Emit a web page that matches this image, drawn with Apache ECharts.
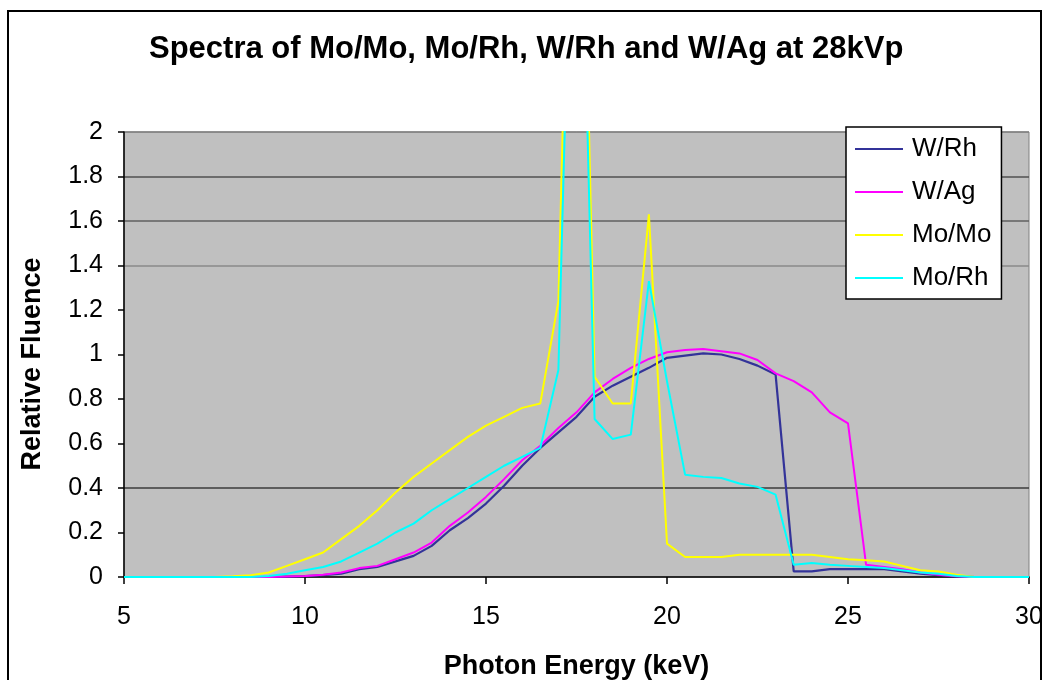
<!DOCTYPE html>
<html>
<head>
<meta charset="utf-8">
<title>Spectra at 28kVp</title>
<script src="https://cdn.jsdelivr.net/npm/echarts@6/dist/echarts.min.js"></script>
<style>
  html, body { margin: 0; padding: 0; background: #ffffff; }
  #chart { width: 1044px; height: 680px; }
</style>
</head>
<body>
<div id="chart"></div>
<script>
// Photon energy grid (keV)
var energy = [5, 5.5, 6, 6.5, 7, 7.5, 8, 8.5, 9, 9.5, 10, 10.5, 11, 11.5, 12, 12.5,
  13, 13.5, 14, 14.5, 15, 15.5, 16, 16.5, 17, 17.5, 18, 18.5, 19, 19.5, 20, 20.5,
  21, 21.5, 22, 22.5, 23, 23.5, 24, 24.5, 25, 25.5, 26, 26.5, 27, 27.5, 28, 28.5,
  29, 29.5, 30];

// Relative fluence per target/filter combination
var wRh = [0, 0, 0, 0, 0, 0, 0, 0, 0, 0.002, 0.004, 0.008, 0.015, 0.035, 0.045, 0.07,
  0.095, 0.14, 0.21, 0.265, 0.33, 0.41, 0.50, 0.58, 0.65, 0.72, 0.81, 0.86, 0.90, 0.94, 0.985, 0.995,
  1.005, 1.0, 0.98, 0.95, 0.91, 0.025, 0.025, 0.035, 0.035, 0.035, 0.035, 0.025, 0.015, 0.008, 0.002, 0,
  0, 0, 0];
var wAg = [0, 0, 0, 0, 0, 0, 0, 0, 0, 0.002, 0.005, 0.01, 0.02, 0.04, 0.05, 0.08,
  0.11, 0.155, 0.23, 0.29, 0.36, 0.44, 0.525, 0.59, 0.67, 0.74, 0.83, 0.89, 0.94, 0.98, 1.01, 1.02,
  1.025, 1.015, 1.005, 0.975, 0.915, 0.88, 0.83, 0.74, 0.69, 0.055, 0.045, 0.035, 0.02, 0.01, 0.003, 0,
  0, 0, 0];
var moMo = [0, 0, 0, 0, 0, 0, 0.003, 0.008, 0.02, 0.05, 0.08, 0.11, 0.17, 0.23, 0.30, 0.38,
  0.45, 0.51, 0.57, 0.63, 0.68, 0.72, 0.76, 0.78, 1.24, 4.5, 0.90, 0.78, 0.78, 1.63, 0.15, 0.09,
  0.09, 0.09, 0.10, 0.10, 0.10, 0.10, 0.10, 0.09, 0.08, 0.075, 0.07, 0.05, 0.03, 0.025, 0.01, 0,
  0, 0, 0];
var moRh = [0, 0, 0, 0, 0, 0, 0, 0, 0.005, 0.015, 0.03, 0.045, 0.07, 0.11, 0.15, 0.20,
  0.24, 0.30, 0.35, 0.40, 0.45, 0.50, 0.54, 0.58, 0.93, 4.0, 0.71, 0.62, 0.64, 1.33, 0.88, 0.46,
  0.45, 0.445, 0.42, 0.405, 0.37, 0.055, 0.063, 0.055, 0.05, 0.045, 0.04, 0.03, 0.02, 0.015, 0.005, 0,
  0, 0, 0];

var seriesNames = ['W/Rh', 'W/Ag', 'Mo/Mo', 'Mo/Rh'];
var seriesValues = [wRh, wAg, moMo, moRh];
var seriesColors = ['#333399', '#ff00ff', '#ffff00', '#00ffff'];

var FONT = "'Liberation Sans', Arial, sans-serif";

function pairs(values) {
  return energy.map(function (e, i) { return [e, values[i]]; });
}

var chart = echarts.init(document.getElementById('chart'), null, { renderer: 'canvas' });

chart.setOption({
  animation: false,
  backgroundColor: '#ffffff',
  title: {
    text: 'Spectra of Mo/Mo, Mo/Rh, W/Rh and W/Ag at 28kVp',
    left: 149,
    top: 34,
    padding: 0,
    textStyle: { fontFamily: FONT, fontSize: 31, fontWeight: 'bold', color: '#000' }
  },
  grid: {
    left: 124, right: 15, top: 132, bottom: 103,
    outerBoundsMode: 'none',
    containLabel: false,
    show: true,
    backgroundColor: '#c0c0c0',
    borderColor: '#808080',
    borderWidth: 1
  },
  legend: {
    orient: 'vertical',
    left: 846,
    top: 127,
    padding: [9, 10, 8, 9],
    icon: 'rect',
    itemWidth: 48,
    itemHeight: 2,
    itemGap: 17,
    backgroundColor: '#ffffff',
    borderColor: '#000000',
    borderWidth: 1.5,
    borderRadius: 0,
    data: seriesNames,
    textStyle: { fontFamily: FONT, fontSize: 26, lineHeight: 26, color: '#000', padding: [0, 0, 0, 4] }
  },
  xAxis: {
    type: 'value',
    min: 5, max: 30, interval: 5,
    name: 'Photon Energy (keV)',
    nameLocation: 'middle',
    nameGap: 76,
    nameTextStyle: { fontFamily: FONT, fontSize: 27, fontWeight: 'bold', color: '#000' },
    axisLine: { show: true, onZero: false, lineStyle: { color: '#000', width: 1.5 } },
    axisTick: { show: true, inside: false, length: 7, lineStyle: { color: '#000', width: 1.5 } },
    axisLabel: { margin: 28, fontFamily: FONT, fontSize: 25, color: '#000' },
    splitLine: { show: false }
  },
  yAxis: {
    type: 'value',
    min: 0, max: 2, interval: 0.2,
    axisLine: { show: true, lineStyle: { color: '#000', width: 1.5 } },
    axisTick: { show: true, inside: false, length: 6, lineStyle: { color: '#000', width: 1.5 } },
    axisLabel: { margin: 21, fontFamily: FONT, fontSize: 25, color: '#000' },
    splitLine: {
      show: true,
      lineStyle: {
        width: 1.5,
        // one colour per gridline from 0 to 2
        color: ['rgba(0,0,0,0)', 'rgba(0,0,0,0)', '#3c3c3c', 'rgba(0,0,0,0)', 'rgba(0,0,0,0)',
                'rgba(0,0,0,0)', 'rgba(0,0,0,0)', '#8a8a8a', '#606060', '#505050', '#808080']
      }
    }
  },
  series: seriesNames.map(function (name, k) {
    return {
      name: name,
      type: 'line',
      data: pairs(seriesValues[k]),
      symbol: 'none',
      showSymbol: false,
      clip: true,
      lineStyle: { color: seriesColors[k], width: k === 0 ? 2.2 : 2 },
      itemStyle: { color: seriesColors[k] },
      z: 2 + k
    };
  }),
  graphic: [
    {
      // y-axis title
      type: 'text',
      x: 33,
      y: 364,
      rotation: Math.PI / 2,
      style: {
        text: 'Relative Fluence',
        font: 'bold 27px ' + FONT,
        fill: '#000',
        align: 'center',
        verticalAlign: 'middle'
      }
    },
    {
      type: 'rect',
      z: 100,
      shape: { x: 1042, y: 0, width: 10, height: 680 },
      style: { fill: '#ffffff' }
    },
    {
      type: 'rect',
      z: 101,
      shape: { x: 8, y: 11, width: 1033, height: 700 },
      style: { fill: 'none', stroke: '#000000', lineWidth: 2 }
    }
  ]
});
</script>
</body>
</html>
